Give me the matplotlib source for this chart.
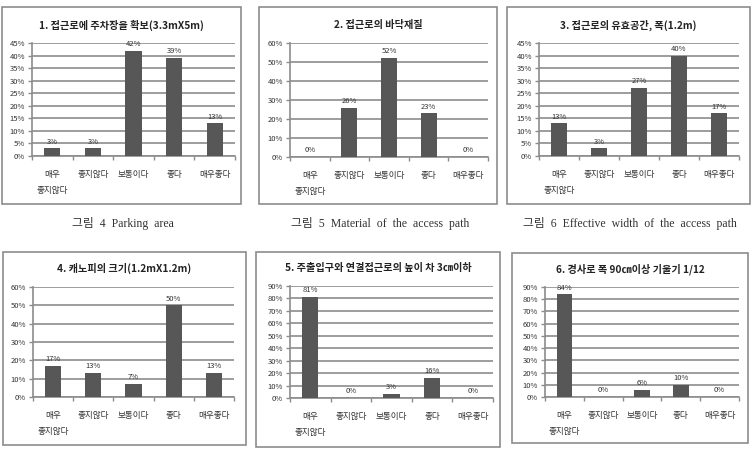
import matplotlib
matplotlib.use("Agg")
import matplotlib.pyplot as plt
from matplotlib.patches import Rectangle
from matplotlib.ticker import FixedLocator

plt.rcParams['font.family'] = ['Noto Sans CJK KR', 'DejaVu Sans']

W, H = 751, 449

categories = ['매우\n좋지않다', '좋지않다', '보통이다', '좋다', '매우좋다']

titles = [
    '1. 접근로에 주차장을 확보(3.3mX5m)',
    '2. 접근로의 바닥재질',
    '3. 접근로의 유효공간, 폭(1.2m)',
    '4. 캐노피의 크기(1.2mX1.2m)',
    '5. 주출입구와 연결접근로의 높이 차 3㎝이하',
    '6. 경사로 폭 90㎝이상 기울기 1/12',
]

vals1 = [3, 3, 42, 39, 13]
vals2 = [0, 26, 52, 23, 0]
vals3 = [13, 3, 27, 40, 17]
vals4 = [17, 13, 7, 50, 13]
vals5 = [81, 0, 3, 16, 0]
vals6 = [84, 0, 6, 10, 0]
series = [vals1, vals2, vals3, vals4, vals5, vals6]

ymax = [45, 60, 45, 60, 90, 90]
ystep = [5, 10, 5, 10, 10, 10]

captions = ['그림  4  Parking  area',
            '그림  5  Material  of  the  access  path',
            '그림  6  Effective  width  of  the  access  path']

# pixel boxes: (left, top, right, bottom)
frames = [(2, 7, 241, 204), (259, 7, 497, 204), (507, 7, 750, 204),
          (3, 252, 246, 445), (256, 252, 500, 447), (512, 253, 748, 443)]
plots = [(32, 43, 235, 156), (290, 43, 488, 157), (539, 43, 739, 156),
         (33, 287, 234, 397), (290, 286, 493, 398), (545, 287, 739, 397)]
title_y = [25, 25, 25, 268, 268, 269]
caption_x = [123, 380, 630]
caption_y = 224

GRAY = '#8c8c8c'
BAR = '#575757'

fig = plt.figure(figsize=(W / 100, H / 100), dpi=100)
fig.patch.set_facecolor('white')


def fx(px):
    return px / W


def fy(py):
    return 1 - py / H


for i in range(6):
    l, t, r, b = frames[i]
    fig.patches.append(Rectangle((fx(l), fy(b)), fx(r - l), (b - t) / H,
                                 transform=fig.transFigure, fill=False,
                                 edgecolor=GRAY, linewidth=1.2))
    l, t, r, b = plots[i]
    ax = fig.add_axes([fx(l), fy(b), fx(r - l), (b - t) / H])
    vals = series[i]
    x = list(range(len(categories)))
    ax.bar(x, vals, width=0.4, color=BAR, zorder=3)
    for xi, v in zip(x, vals):
        ax.annotate(f'{v}%', (xi, v), xytext=(0, 2), textcoords='offset points',
                    ha='center', va='bottom', fontsize=5.5, color='#333333', zorder=4)
    ax.set_xlim(-0.5, 4.5)
    ax.set_ylim(0, ymax[i])
    yt = list(range(0, ymax[i] + 1, ystep[i]))
    ax.set_yticks(yt)
    ax.set_yticklabels([f'{v}%' for v in yt], fontsize=5.5, color='#333333')
    ax.set_xticks(x)
    ax.set_xticklabels(categories, fontsize=6.2, color='#333333', linespacing=2.0)
    ax.xaxis.set_minor_locator(FixedLocator([k - 0.5 for k in range(6)]))
    ax.tick_params(axis='x', which='major', length=0, pad=10)
    ax.tick_params(axis='x', which='minor', length=3, color=GRAY, width=1)
    ax.tick_params(axis='y', length=3, color=GRAY, width=1, pad=2)
    ax.yaxis.grid(True, color=GRAY, linewidth=1.2, zorder=0)
    ax.set_axisbelow(True)
    for s in ['top', 'right']:
        ax.spines[s].set_visible(False)
    for s in ['left', 'bottom']:
        ax.spines[s].set_color(GRAY)
        ax.spines[s].set_linewidth(1.2)
    cx = (frames[i][0] + frames[i][2]) / 2
    fig.text(fx(cx), fy(title_y[i]), titles[i], ha='center', va='center',
             fontsize=7.3, fontweight='bold', color='#222222')

for j in range(3):
    fig.text(fx(caption_x[j]), fy(caption_y), captions[j], ha='center', va='center',
             fontsize=8.5, color='#333333',
             family=['Liberation Serif', 'Noto Sans CJK KR'])

fig.savefig('out.png', dpi=100)
